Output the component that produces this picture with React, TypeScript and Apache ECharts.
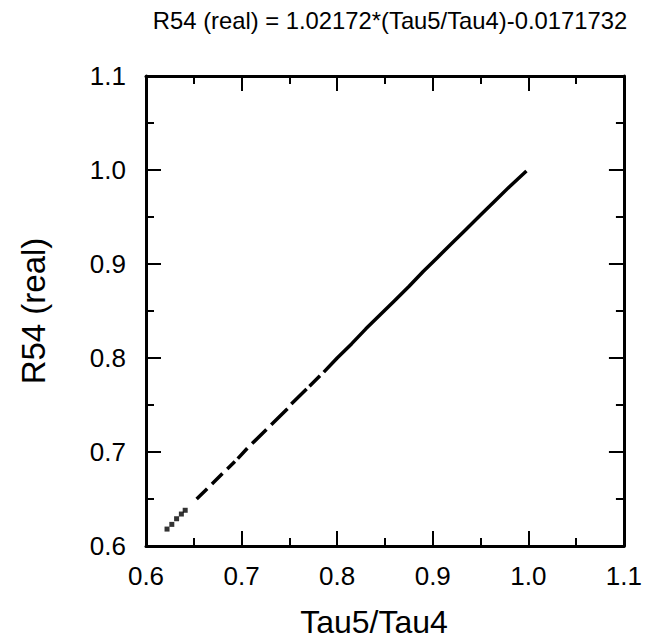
import React, { useEffect, useRef } from "react";
import * as echarts from "echarts";

const titleText = "R54 (real) = 1.02172*(Tau5/Tau4)-0.0171732";
const xName = "Tau5/Tau4";
const yName = "R54 (real)";
const axisMin = 0.6;
const axisMax = 1.1;
const axisStep = 0.1;

// sparse low-end points
const dotX = [0.622, 0.627, 0.632, 0.637, 0.641];
const dotY = [0.618, 0.623, 0.629, 0.634, 0.638];

// dense points (null = gap in the data)
const fitX = [
  0.653, 0.664, 0.666,
  0.669, 0.680, 0.683,
  0.685, 0.693, 0.695,
  0.696, 0.706, 0.709,
  0.711, 0.726, 0.729,
  0.731, 0.748, 0.750,
  0.752, 0.768, 0.770,
  0.771, 0.782, 0.784,
  0.786, 0.800, 0.815, 0.830, 0.845, 0.860, 0.875, 0.890, 0.905, 0.920,
  0.935, 0.950, 0.965, 0.980, 0.998,
];
const fitY = [
  0.650, 0.661, null,
  0.666, 0.677, null,
  0.682, 0.690, null,
  0.693, 0.704, null,
  0.709, 0.724, null,
  0.729, 0.746, null,
  0.751, 0.767, null,
  0.770, 0.781, null,
  0.785, 0.800, 0.815, 0.831, 0.846, 0.861, 0.876, 0.892, 0.907, 0.922,
  0.937, 0.952, 0.967, 0.982, 0.999,
];

const FONT = "'Liberation Sans', Arial, sans-serif";

export default function App() {
  const ref = useRef<HTMLDivElement>(null);
  useEffect(() => {
    if (!ref.current) return;
    const chart = echarts.init(ref.current, null, { renderer: "svg" });
    const labelStyle = {
      show: true,
      color: "#000",
      fontSize: 26,
      fontFamily: FONT,
      formatter: (v: number) => v.toFixed(1),
    };
    const axisCommon = () => ({
      type: "value",
      min: axisMin,
      max: axisMax,
      interval: axisStep,
      axisLine: { show: true, onZero: false, lineStyle: { color: "#000", width: 3 } },
      axisTick: { show: true, inside: true, length: 15, lineStyle: { color: "#000", width: 2 } },
      minorTick: { show: true, splitNumber: 2, length: 8, lineStyle: { color: "#000", width: 2 } },
      splitLine: { show: false },
      axisLabel: { show: false },
    });
    chart.setOption({
      animation: false,
      backgroundColor: "#fff",
      title: {
        text: titleText,
        left: 385,
        top: 3,
        textAlign: "center",
        textStyle: { color: "#000", fontSize: 23.8, fontWeight: "normal", fontFamily: FONT },
      },
      grid: { left: 146, right: 19, top: 76, bottom: 98, containLabel: false },
      xAxis: [
        {
          ...axisCommon(),
          position: "bottom",
          name: xName,
          nameLocation: "middle",
          nameGap: 60,
          nameTextStyle: { color: "#000", fontSize: 32, fontFamily: FONT, padding: [0, 22, 0, 0] },
          axisLabel: { ...labelStyle, margin: 17 },
        },
        { ...axisCommon(), position: "top" },
      ],
      yAxis: [
        {
          ...axisCommon(),
          position: "left",
          name: yName,
          nameLocation: "middle",
          nameGap: 96,
          nameTextStyle: { color: "#000", fontSize: 33, fontFamily: FONT },
          axisLabel: { ...labelStyle, margin: 20 },
        },
        { ...axisCommon(), position: "right" },
      ],
      series: [
        {
          type: "line",
          xAxisIndex: 0,
          yAxisIndex: 0,
          data: fitX.map((x, i) => (fitY[i] == null ? [x, "-"] : [x, fitY[i]])),
          showSymbol: false,
          symbol: "none",
          connectNulls: false,
          lineStyle: { color: "#000", width: 3.5, cap: "butt" },
        },
        {
          type: "scatter",
          xAxisIndex: 0,
          yAxisIndex: 0,
          data: dotX.map((x, i) => [x, dotY[i]]),
          symbol: "rect",
          symbolSize: 5,
          itemStyle: { color: "#000" },
        },
      ],
    });
    return () => chart.dispose();
  }, []);
  return <div ref={ref} style={{ width: 645, height: 644, position: "absolute", left: 0, top: 0 }} />;
}
